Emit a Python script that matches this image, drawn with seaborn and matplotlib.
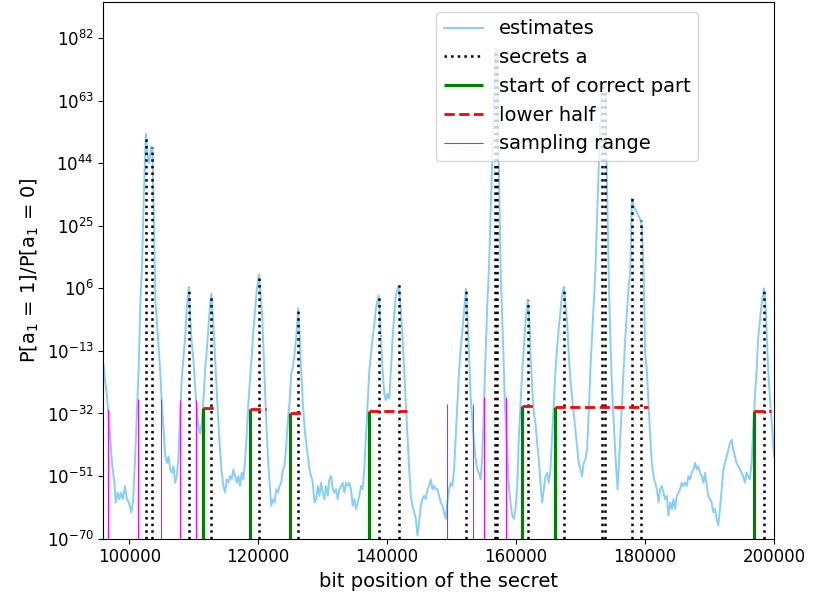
import numpy as np
import pandas as pd
import seaborn as sns
import matplotlib.pyplot as plt
from matplotlib.ticker import FixedLocator, NullLocator

# estimate curve: bit position and log10 of P[a1=1]/P[a1=0]
est_pos = [96000, 96130, 96550, 96960, 97320, 97680, 97890, 98200, 98450, 98710,
           98980, 99330, 99640, 99950, 100310, 100570, 100920, 101190, 101450, 101700,
           101960, 102270, 102580, 102810, 103090, 103400, 103590, 103890, 104050, 104280,
           104790, 105050, 105320, 105570, 105830, 106090, 106340, 106600, 106860, 107110,
           107370, 107640, 107890, 108150, 108410, 108660, 108920, 109230, 109430, 109700,
           109960, 110210, 110470, 110730, 110980, 111240, 111500, 111750, 112010, 112280,
           112530, 112740, 113050, 113300, 113560, 113820, 114070, 114340, 114600, 114850,
           115110, 115370, 115620, 115880, 116150, 116390, 116660, 116920, 117170, 117430,
           117690, 117940, 118200, 118470, 118710, 118980, 119240, 119490, 119750, 120105,
           120370, 120630, 120800, 121000, 121240, 121500, 121760, 122020, 122280, 122530,
           122790, 123050, 123310, 123560, 123820, 124080, 124340, 124600, 124850, 125110,
           125370, 125630, 125890, 126199, 126400, 126660, 126920, 127170, 127430, 127690,
           127950, 128210, 128460, 128720, 128980, 129240, 129490, 129750, 130010, 130270,
           130530, 130780, 131040, 131300, 131560, 131810, 132070, 132330, 132590, 132850,
           133100, 133360, 133620, 133880, 134130, 134390, 134650, 134910, 135170, 135420,
           135680, 135940, 136200, 136450, 136710, 136970, 137230, 137490, 137740, 138000,
           138260, 138666, 138780, 139030, 139290, 139550, 139810, 140060, 140320, 140580,
           140840, 141100, 141350, 141820, 142130, 142380, 142640, 142900, 143160, 143420,
           143670, 143930, 144190, 144450, 144700, 144960, 145220, 145480, 145740, 145990,
           146250, 146510, 146770, 147030, 147280, 147540, 147800, 148060, 148310, 148570,
           148830, 149090, 149340, 149600, 149860, 150120, 150380, 150630, 150890, 151150,
           151410, 151660, 151920, 152232, 152440, 152700, 152950, 153210, 153470, 153730,
           153980, 154240, 154500, 154760, 155020, 155270, 155530, 155790, 156300, 156800,
           157030, 157340, 157590, 157950, 158260, 158620, 158880, 159140, 159400, 159660,
           159910, 160170, 160430, 160690, 160950, 161200, 161460, 161822, 162080, 162230,
           162490, 162750, 163010, 163270, 163520, 163780, 164040, 164300, 164550, 164810,
           165070, 165330, 165590, 165840, 166100, 166360, 166620, 166870, 167130, 167390,
           167650, 167910, 168160, 168420, 168680, 168940, 169190, 169450, 169710, 169970,
           170230, 170480, 170740, 171000, 171260, 171510, 171770, 172030, 172290, 172800,
           173300, 173840, 174100, 174350, 174610, 174870, 175120, 175380, 175740, 175900,
           176160, 176410, 176670, 176930, 177190, 177440, 177700, 177955, 178220, 178730,
           179301, 179500, 179770, 180020, 180280, 180540, 180800, 181050, 181310, 181570,
           181830, 182090, 182340, 182600, 182860, 183120, 183370, 183630, 183890, 184150,
           184410, 184660, 184920, 185180, 185440, 185690, 185950, 186210, 186470, 186730,
           186980, 187240, 187500, 187760, 188010, 188270, 188530, 188790, 189050, 189300,
           189560, 189820, 190080, 190330, 190590, 190850, 191110, 191370, 191620, 191880,
           192140, 192400, 192660, 192910, 193170, 193430, 193690, 193940, 194200, 194460,
           194720, 194980, 195230, 195490, 195750, 196010, 196260, 196520, 196780, 197040,
           197300, 197550, 197810, 198070, 198434, 198690, 198890, 199100, 199360, 199620,
           199820, 200000]
est_exp = [-17, -20, -27, -37, -47, -53, -59, -56, -58, -56,
           -58, -54, -58, -59, -62, -59, -45, -31, -19, 1,
           12, 35, 53, 47, 44, 49, 48, 20, 2, -4,
           -19, -29, -37, -45, -47, -45, -49, -50, -48, -53,
           -51, -45, -32, -21, -15, -9, 0, 6.4, -2, -11,
           -16, -24, -31, -36, -38, -35, -28, -19, -13, -6,
           1, 4.4, -5, -15, -25, -35, -43, -50, -54, -56,
           -52, -53, -51, -52, -49, -51, -53, -51, -54, -50,
           -52, -47, -39, -29, -22, -15, -7, -1, 5, 10.3,
           4, -3, -12, -22, -34, -45, -53, -60, -58, -59,
           -55, -56, -54, -53, -49, -48, -42, -34, -29, -20,
           -18, -14, -9, -0.1, -7, -19, -29, -36, -41, -45,
           -49, -51, -53, -59, -58, -54, -57, -53, -56, -58,
           -54, -57, -52, -51, -55, -56, -55, -58, -55, -54,
           -53, -56, -53, -54, -53, -55, -60, -58, -61, -59,
           -57, -54, -55, -49, -39, -29, -19, -14, -9, -5,
           0, 3.9, 1, -9, -19, -26, -28, -26, -27.5, -19,
           -9, -2, 4, 6.9, -1, -9, -19, -29, -39, -49,
           -57, -60, -62, -64, -69, -65, -60, -58, -57, -58,
           -55, -54, -52, -55, -54, -55, -55, -57, -59, -60,
           -62, -64, -59, -55, -53, -54, -49, -39, -29, -19,
           -12, -7, -1, 5.9, -2, -14, -27, -34, -41, -46,
           -49, -50, -52, -45, -29, -14, 1, 12, 45, 78.8,
           77, 40, 12, -9, -29, -44, -54, -59, -63, -64,
           -61, -54, -39, -29, -19, -12, -4, 2.6, -4, -14,
           -24, -32, -35, -41, -46, -53, -59, -55, -51, -50,
           -53, -49, -39, -29, -19, -12, -6, -1, 4, 6.4,
           1, -4, -14, -22, -27, -32, -37, -42, -47, -49,
           -51, -47, -46, -43, -32, -19, -9, 1, 11, 42,
           68, 66, 38, 11, -9, -24, -34, -44, -55, -49,
           -39, -29, -19, -9, -1, 6, 11, 33.3, 31, 29,
           26.7, 25, 11, -14, -19, -29, -39, -47, -51, -53,
           -55, -59, -55, -54, -56, -58, -57, -63, -59, -61,
           -58, -61, -57, -56, -55, -53, -54, -53, -54, -51,
           -52, -50, -49, -47, -49, -48, -50, -51, -53, -50,
           -54, -57, -58, -59, -62, -61, -64, -66, -61, -55,
           -49, -47, -45, -43, -41, -40, -43, -45, -47, -48,
           -49, -50, -51, -53, -50, -51, -52, -47, -37, -27,
           -19, -9, -4, 1, 6.0, 1, -9, -19, -27, -34,
           -40, -45]

# secrets a: positions and log10 of the height of the dotted line
secret_pos = [102580, 103554, 109231, 112742, 120105, 126199, 138666, 141820, 152232,
              156800, 157030, 161822, 167390, 173300, 173840, 177955, 179301, 198434]
secret_exp = [52, 48.9, 6.4, 4.2, 10.3, -0.1, 3.9, 6.9, 5.9,
              78.3, 77, 2.6, 6.4, 67.5, 66.5, 33.3, 26.7, 6.0]

# start of correct part and the lower half that follows it
correct_start = [111504, 118775, 124962, 137119, 160847, 165998, 196934]
correct_end = [113144, 121240, 126663, 143152, 162594, 180537, 199610]
correct_exp = [-30.2, -30.5, -31.8, -31.2, -29.7, -30.0, -31.2]

# sampling range borders
sampling_pos = [96701, 101388, 104946, 107838, 110391, 149215, 153392, 155093, 158419]
sampling_exp = [-30.5, -27.7, -27.7, -28.0, -28.0, -29.0, -29.0, -27.1, -27.1]

x_ticks = [100000, 120000, 140000, 160000, 180000, 200000]
y_tick_exp = list(range(-70, 83, 19))

df = pd.DataFrame({'pos': est_pos, 'ratio': 10.0 ** np.array(est_exp)})

fig, ax = plt.subplots(figsize=(8.13, 6.05), dpi=100)
fig.subplots_adjust(left=0.1273, right=0.952, bottom=0.1096, top=0.9967)

sns.lineplot(data=df, x='pos', y='ratio', ax=ax, color='lightskyblue',
             linewidth=1.4, label='estimates', estimator=None)
ax.set_yscale('log')

bottom = 1e-80
ax.vlines(secret_pos, bottom, 10.0 ** np.array(secret_exp), colors='black',
          linestyles=':', linewidth=1.8, label='secrets a')
ax.vlines(correct_start, bottom, 10.0 ** np.array(correct_exp), colors='green',
          linewidth=2.3, label='start of correct part')
ax.hlines(10.0 ** np.array(correct_exp), correct_start, correct_end, colors='red',
          linestyles='--', linewidth=2.0, label='lower half')
ax.vlines(sampling_pos, bottom, 10.0 ** np.array(sampling_exp), colors='magenta',
          linewidth=0.8, label='sampling range')

ax.set_xlim(96000, 200000)
ax.set_ylim(1e-70, 10 ** 92.9)
ax.set_xticks(x_ticks)
ax.yaxis.set_major_locator(FixedLocator([10.0 ** k for k in y_tick_exp]))
ax.yaxis.set_minor_locator(NullLocator())
ax.tick_params(labelsize=12)

ax.set_xlabel('bit position of the secret', fontsize=14)
ax.set_ylabel(r'P[a$_1$ = 1]/P[a$_1$ = 0]', fontsize=14)
ax.legend(loc='upper right', bbox_to_anchor=(0.887, 0.982), borderaxespad=0,
          fontsize=14)

plt.savefig('out.png', dpi=100)
